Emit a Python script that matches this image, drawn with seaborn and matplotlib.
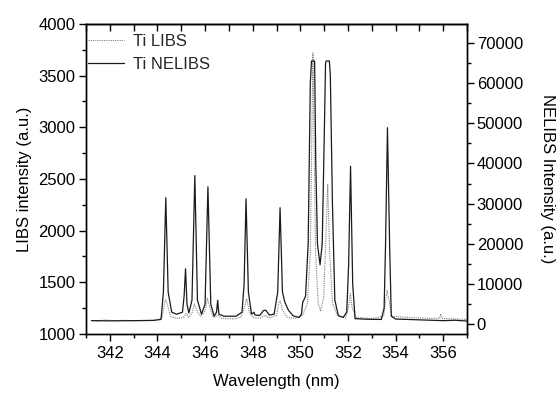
import matplotlib
matplotlib.use("Agg")
import matplotlib.pyplot as plt
from matplotlib.ticker import MultipleLocator
import seaborn as sns
import pandas as pd

# ---- data ----
# Ti LIBS (left axis, a.u.)
libs_wl = [341.23, 341.5, 341.8, 342.2, 342.5, 343.0, 343.5, 344.0, 344.2, 344.3,
           344.35, 344.42, 344.55, 344.8, 345.1, 345.2, 345.3, 345.45, 345.55, 345.65,
           345.8, 346.0, 346.1, 346.2, 346.35, 346.53, 346.7, 347.2, 347.5, 347.65,
           347.75, 347.85, 348.0, 348.3, 348.5, 348.7, 349.0, 349.1, 349.15, 349.25,
           349.45, 349.8, 350.1, 350.3, 350.42, 350.53, 350.64, 350.75, 350.85, 350.98,
           351.07, 351.15, 351.23, 351.35, 351.55, 351.9, 352.02, 352.1, 352.18, 352.35,
           353.0, 353.5, 353.6, 353.65, 353.72, 353.85, 354.5, 355.0, 355.5, 355.85,
           355.9, 355.95, 356.5, 357.0]
libs_int = [1130, 1125, 1135, 1128, 1132, 1128, 1130, 1135, 1160, 1300,
            1330, 1280, 1170, 1150, 1160, 1200, 1160, 1200, 1290, 1230,
            1170, 1220, 1350, 1250, 1160, 1180, 1150, 1145, 1160, 1260,
            1340, 1220, 1160, 1150, 1180, 1155, 1180, 1300, 1320, 1230,
            1160, 1150, 1180, 1300, 1800, 3720, 1800, 1300, 1220, 1350,
            1900, 2450, 1800, 1300, 1180, 1160, 1250, 1390, 1250, 1160,
            1150, 1170, 1350, 1420, 1330, 1170, 1160, 1155, 1150, 1150,
            1195, 1150, 1145, 1140]

# Ti NELIBS (right axis, a.u.)
nelibs_wl = [341.23, 342.0, 343.0, 343.8, 344.15, 344.25, 344.35, 344.45, 344.6, 344.8,
             345.05, 345.12, 345.18, 345.24, 345.32, 345.45, 345.57, 345.68, 345.85, 346.0,
             346.12, 346.24, 346.38, 346.48, 346.53, 346.58, 346.8, 347.3, 347.55, 347.64,
             347.72, 347.82, 347.95, 348.05, 348.1, 348.3, 348.45, 348.55, 348.7, 348.9,
             349.05, 349.15, 349.25, 349.35, 349.5, 349.7, 349.95, 350.05, 350.1, 350.17,
             350.22, 350.33, 350.42, 350.47, 350.60, 350.65, 350.72, 350.83, 350.92, 351.0,
             351.06, 351.09, 351.22, 351.26, 351.35, 351.45, 351.6, 351.8, 351.95, 352.03,
             352.11, 352.2, 352.3, 352.8, 353.4, 353.52, 353.58, 353.66, 353.75, 353.82,
             354.0, 355.0, 356.0, 356.5, 357.0]
nelibs_int = [900, 850, 900, 950, 1200, 8000, 31500, 8000, 3000, 2500,
              3000, 7000, 13800, 5000, 2800, 6000, 37000, 6000, 2500, 5000,
              34200, 5000, 2000, 3000, 6000, 2500, 2000, 2000, 3000, 10000,
              31250, 8000, 2500, 3000, 2300, 2200, 3400, 3500, 2300, 2500,
              8000, 29000, 8000, 5500, 3500, 2100, 1700, 2500, 5500, 6300,
              7000, 20000, 60000, 65500, 65500, 40000, 20000, 14800, 20000, 45000,
              65000, 65500, 65500, 62000, 30000, 6000, 2100, 1700, 3000, 15000,
              39300, 10000, 1400, 1250, 1200, 4000, 20000, 48900, 20000, 2000,
              1300, 1100, 900, 1000, 800]

labels = ["Ti LIBS", "Ti NELIBS"]

# ---- plot ----
sns.set_theme(style="ticks")
plt.rcParams["font.family"] = ["Liberation Sans", "DejaVu Sans"]
plt.rcParams["font.size"] = 12

df_libs = pd.DataFrame({"wl": libs_wl, "val": libs_int})
df_ne = pd.DataFrame({"wl": nelibs_wl, "val": nelibs_int})

fig = plt.figure(figsize=(5.6, 3.94), dpi=100)
ax = fig.add_axes([0.1536, 0.1525, 0.6803, 0.7866])
ax2 = ax.twinx()

sns.lineplot(data=df_libs, x="wl", y="val", ax=ax, sort=False, estimator=None,
             color="#808080", linestyle=(0, (1, 1)), linewidth=0.8, label=labels[0],
             legend=False)
sns.lineplot(data=df_ne, x="wl", y="val", ax=ax2, sort=False, estimator=None,
             color="#1a1a1a", linewidth=0.9, label=labels[1], legend=False)

ax.set_xlim(341, 357)
ax.set_ylim(1000, 4000)
ax2.set_ylim(-2400, 74700)

ax.xaxis.set_major_locator(MultipleLocator(2))
ax.xaxis.set_minor_locator(MultipleLocator(1))
ax.yaxis.set_major_locator(MultipleLocator(500))
ax.yaxis.set_minor_locator(MultipleLocator(250))
ax2.yaxis.set_major_locator(MultipleLocator(10000))
ax2.yaxis.set_minor_locator(MultipleLocator(5000))

for a in (ax, ax2):
    for s in a.spines.values():
        s.set_color("black")
        s.set_linewidth(1.0)

ax.tick_params(axis="both", which="major", direction="out", length=5, width=1,
               labelsize=12, color="black", labelcolor="black", pad=2.5)
ax.tick_params(axis="x", which="major", pad=4)
ax.tick_params(axis="both", which="minor", direction="out", length=3, width=1,
               color="black")
ax.tick_params(axis="x", top=False)
ax2.tick_params(axis="y", which="major", direction="out", length=5, width=1,
                labelsize=12, color="black", labelcolor="black", pad=2)
ax2.tick_params(axis="y", which="minor", direction="out", length=3, width=1,
                color="black")

top = ax.secondary_xaxis("top")
top.xaxis.set_major_locator(MultipleLocator(1))
top.tick_params(axis="x", which="major", direction="in", length=5, width=1,
                labeltop=False, color="black")
top.spines["top"].set_linewidth(1.0)

ax.set_xlabel("Wavelength (nm)", fontsize=12, color="black", labelpad=9)
ax.set_ylabel("LIBS intensity (a.u.)", fontsize=12, color="black", labelpad=5)
ax2.set_ylabel("NELIBS Intensity (a.u.)", fontsize=12, color="black",
               rotation=-90, va="bottom", labelpad=12)

h1 = ax.get_lines()[0]
h2 = ax2.get_lines()[0]
ax.legend([h1, h2], labels, loc="upper left", bbox_to_anchor=(0.0, 0.974),
          frameon=False, fontsize=12, borderaxespad=0.0, borderpad=0.1,
          handlelength=2.2, handletextpad=0.5, labelspacing=0.47)

fig.savefig("out.png", dpi=100)
